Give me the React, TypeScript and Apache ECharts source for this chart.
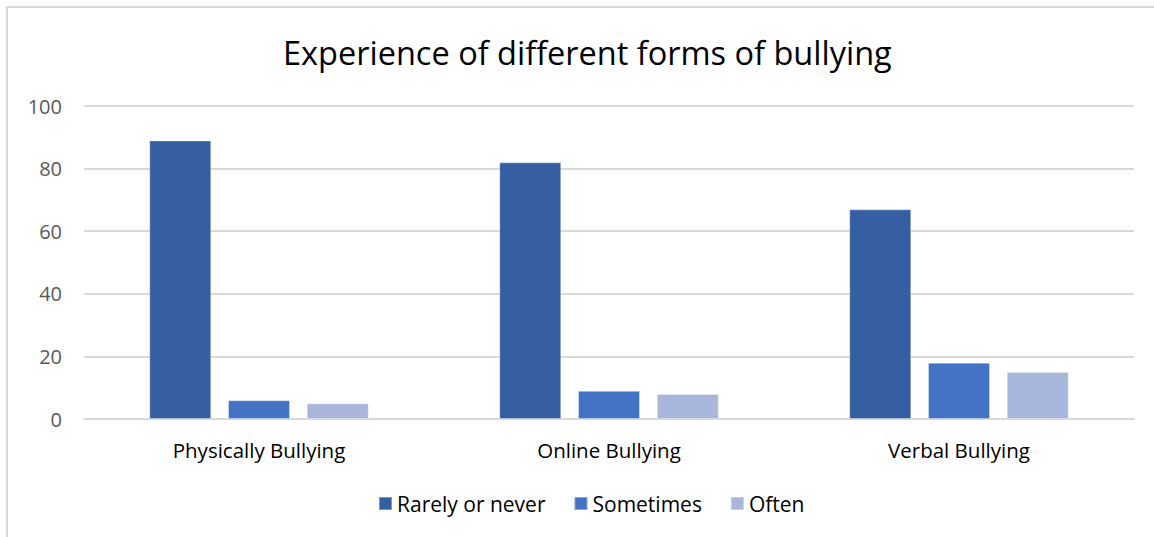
import React, { useEffect, useRef } from "react";
import * as echarts from "echarts";

const categories = ["Physically Bullying", "Online Bullying", "Verbal Bullying"];
const seriesNames = ["Rarely or never", "Sometimes", "Often"];
const rarelyValues = [89, 82, 67];
const sometimesValues = [6, 9, 18];
const oftenValues = [5, 8, 15];
const yTicks = [0, 20, 40, 60, 80, 100];

const colors = ["#365fa3", "#4472c4", "#a8b6db"];
const FONT = "'Open Sans', 'Noto Sans', sans-serif";

export default function App() {
  const ref = useRef<HTMLDivElement>(null);
  useEffect(() => {
    if (!ref.current) return;
    const chart = echarts.init(ref.current, null, { renderer: "svg" });
    const values = [rarelyValues, sometimesValues, oftenValues];
    chart.setOption({
      animation: false,
      backgroundColor: "#ffffff",
      title: {
        text: "Experience of different forms of bullying",
        left: 278,
        top: 31,
        textStyle: { fontFamily: FONT, fontSize: 32.5, fontWeight: "normal", color: "#000000" },
      },
      graphic: [
        {
          type: "rect",
          shape: { x: 7, y: 7, width: 1170, height: 560 },
          style: { fill: "none", stroke: "#d9d9d9", lineWidth: 2 },
          silent: true,
        },
      ],
      legend: {
        bottom: 18,
        left: 373,
        itemWidth: 13,
        itemHeight: 13,
        itemGap: 28,
        icon: "rect",
        data: seriesNames,
        textStyle: { fontFamily: FONT, fontSize: 21, color: "#000000", padding: [0, 0, 0, 0] },
      },
      grid: { left: 84, right: 20, top: 106, bottom: 118 },
      xAxis: {
        type: "category",
        data: categories,
        axisTick: { show: false },
        axisLine: { lineStyle: { color: "#d9d9d9", width: 2 } },
        axisLabel: { fontFamily: FONT, fontSize: 20.5, color: "#000000", margin: 20 },
      },
      yAxis: {
        type: "value",
        min: yTicks[0],
        max: yTicks[yTicks.length - 1],
        interval: 20,
        axisLine: { show: false },
        axisTick: { show: false },
        splitLine: { lineStyle: { color: "#d9d9d9", width: 2 } },
        axisLabel: { fontFamily: FONT, fontSize: 20, color: "#595959", margin: 22 },
      },
      series: seriesNames.map((name, i) => ({
        name,
        type: "bar",
        data: values[i],
        barWidth: 62,
        barGap: "27%",
        itemStyle: { color: colors[i], borderColor: "rgba(255,255,255,0.35)", borderWidth: 1 },
      })),
    });
    return () => chart.dispose();
  }, []);
  return (
    <div
      ref={ref}
      style={{ position: "fixed", left: 0, top: 0, width: 1154, height: 537 }}
    />
  );
}
